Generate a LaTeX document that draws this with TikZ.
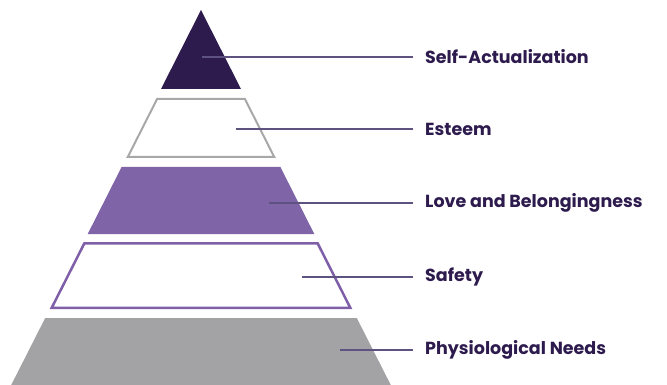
\documentclass[tikz,border=0pt]{standalone}
\usepackage{fontspec}
\setmainfont{Poppins}
\definecolor{darkp}{HTML}{2D1B4E}
\definecolor{lgray}{HTML}{A8A8A8}
\definecolor{midp}{HTML}{8064A8}
\definecolor{safp}{HTML}{7E5FA8}
\definecolor{dgray}{HTML}{A3A3A5}
\definecolor{leadc}{HTML}{5E5280}
\tikzset{
  lbl/.style={anchor=west, inner sep=0pt, text=darkp, font=\fontsize{17.5}{20}\selectfont\bfseries},
  lead/.style={draw=leadc, line width=1.1pt},
}
\begin{document}
\begin{tikzpicture}[x=1pt,y=-1pt]
\useasboundingbox (0,0) rectangle (667,385);
\clip (0,0) rectangle (667,385);
% layers
\fill[darkp] (201,10) -- (241,89) -- (161,89) -- cycle;
\draw[lgray, line width=2pt, line join=miter] (157.1,99) -- (244.9,99) -- (274.26,157) -- (127.74,157) -- cycle;
\fill[midp] (121.6,167) -- (280.4,167) -- (314.3,234) -- (87.7,234) -- cycle;
\draw[safp, line width=2.5pt, line join=miter] (84.4,243.25) -- (317.6,243.25) -- (350.26,307.75) -- (51.74,307.75) -- cycle;
\fill[dgray] (45.2,318) -- (356.8,318) -- (390.8,385) -- (11.2,385) -- cycle;
% anchors
\coordinate (p1) at (202,57);
\coordinate (p2) at (236,129);
\coordinate (p3) at (269,203);
\coordinate (p4) at (302,277);
\coordinate (p5) at (340,350);
\coordinate (e1) at (413,57);
\coordinate (e2) at (413,129);
\coordinate (e3) at (413,203);
\coordinate (e4) at (413,277);
\coordinate (e5) at (413,350);
\node[lbl] (t1) at (425,57) {Self-Actualization};
\node[lbl] (t2) at (425,129) {Esteem};
\node[lbl] (t3) at (425,203) {Love and Belongingness};
\node[lbl] (t4) at (425,277) {Safety};
\node[lbl] (t5) at (425,350) {Physiological Needs};
\draw[lead] (p1) -- (e1);
\draw[lead] (p2) -- (e2);
\draw[lead] (p3) -- (e3);
\draw[lead] (p4) -- (e4);
\draw[lead] (p5) -- (e5);
\end{tikzpicture}
\end{document}
